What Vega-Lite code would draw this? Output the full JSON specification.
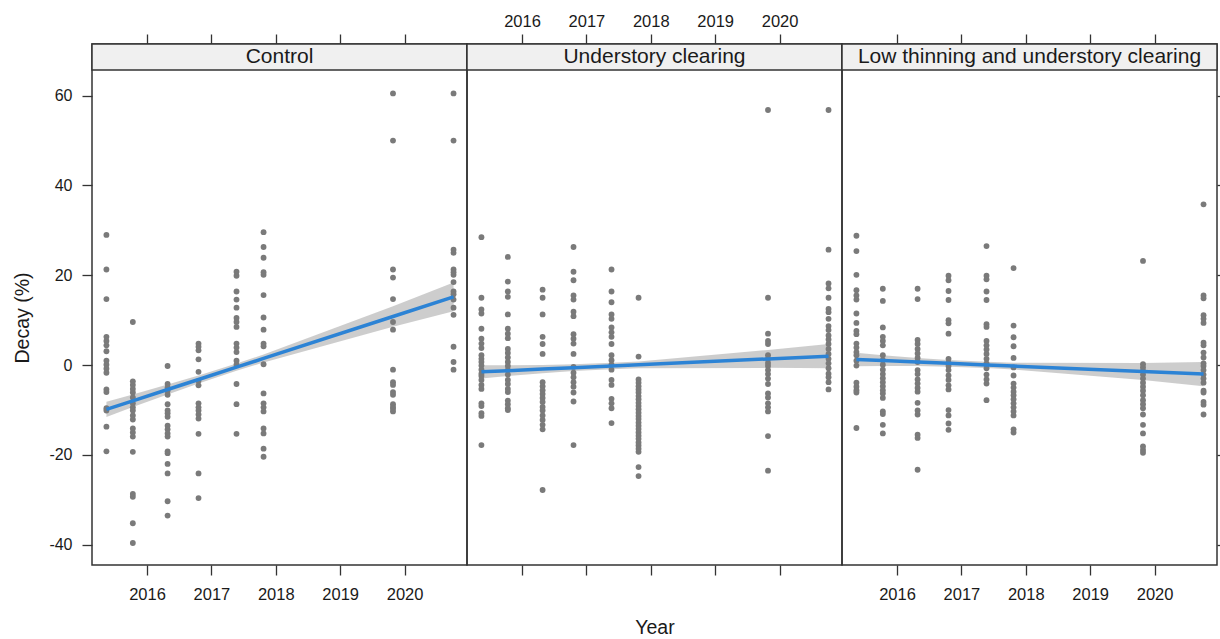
{
  "$schema": "https://vega.github.io/schema/vega-lite/v6.json",
  "padding": {"left": 11, "top": 12, "right": 0, "bottom": 0},
  "background": "white",
  "config": {
    "font": "Liberation Sans",
    "view": {"stroke": "#333333", "strokeWidth": 1.5},
    "axis": {"grid": false, "domain": false, "tickColor": "#333333", "tickWidth": 1.3, "tickSize": 10, "labelFont": "Liberation Sans", "labelFontSize": 16.5, "labelColor": "#1a1a1a", "titleFont": "Liberation Sans", "titleFontSize": 19.5, "titleFontWeight": "normal", "titleColor": "#1a1a1a"}
  },
  "datasets": {
    "control": [
      {"year":2015.37,"decay":29.0},{"year":2015.37,"decay":21.3},{"year":2015.37,"decay":14.7},{"year":2015.37,"decay":6.3},{"year":2015.37,"decay":5.4},{"year":2015.37,"decay":4.4},{"year":2015.37,"decay":3.1},{"year":2015.37,"decay":1.0},{"year":2015.37,"decay":0.1},{"year":2015.37,"decay":-0.8},{"year":2015.37,"decay":-1.7},{"year":2015.37,"decay":-5.4},{"year":2015.37,"decay":-6.0},{"year":2015.37,"decay":-9.6},{"year":2015.37,"decay":-10.1},{"year":2015.37,"decay":-13.7},{"year":2015.37,"decay":-19.2},
      {"year":2015.78,"decay":9.6},{"year":2015.78,"decay":-3.6},{"year":2015.78,"decay":-4.4},{"year":2015.78,"decay":-5.3},{"year":2015.78,"decay":-6.1},{"year":2015.78,"decay":-7.2},{"year":2015.78,"decay":-8.5},{"year":2015.78,"decay":-9.4},{"year":2015.78,"decay":-10.1},{"year":2015.78,"decay":-11.2},{"year":2015.78,"decay":-12.1},{"year":2015.78,"decay":-14.1},{"year":2015.78,"decay":-15.0},{"year":2015.78,"decay":-15.9},{"year":2015.78,"decay":-19.3},{"year":2015.78,"decay":-28.7},{"year":2015.78,"decay":-29.3},{"year":2015.78,"decay":-35.2},{"year":2015.78,"decay":-39.6},
      {"year":2016.32,"decay":-0.2},{"year":2016.32,"decay":-4.2},{"year":2016.32,"decay":-5.0},{"year":2016.32,"decay":-5.7},{"year":2016.32,"decay":-6.6},{"year":2016.32,"decay":-8.7},{"year":2016.32,"decay":-10.1},{"year":2016.32,"decay":-10.7},{"year":2016.32,"decay":-11.5},{"year":2016.32,"decay":-13.5},{"year":2016.32,"decay":-14.3},{"year":2016.32,"decay":-15.2},{"year":2016.32,"decay":-15.9},{"year":2016.32,"decay":-19.2},{"year":2016.32,"decay":-19.6},{"year":2016.32,"decay":-22.0},{"year":2016.32,"decay":-24.1},{"year":2016.32,"decay":-30.3},{"year":2016.32,"decay":-33.5},
      {"year":2016.80,"decay":4.8},{"year":2016.80,"decay":4.1},{"year":2016.80,"decay":3.3},{"year":2016.80,"decay":1.3},{"year":2016.80,"decay":-1.5},{"year":2016.80,"decay":-3.5},{"year":2016.80,"decay":-4.5},{"year":2016.80,"decay":-8.5},{"year":2016.80,"decay":-9.4},{"year":2016.80,"decay":-10.1},{"year":2016.80,"decay":-11.0},{"year":2016.80,"decay":-11.9},{"year":2016.80,"decay":-15.3},{"year":2016.80,"decay":-24.1},{"year":2016.80,"decay":-29.6},
      {"year":2017.39,"decay":20.8},{"year":2017.39,"decay":19.9},{"year":2017.39,"decay":16.4},{"year":2017.39,"decay":14.6},{"year":2017.39,"decay":12.8},{"year":2017.39,"decay":10.5},{"year":2017.39,"decay":9.6},{"year":2017.39,"decay":8.5},{"year":2017.39,"decay":4.8},{"year":2017.39,"decay":3.9},{"year":2017.39,"decay":2.9},{"year":2017.39,"decay":1.0},{"year":2017.39,"decay":0.1},{"year":2017.39,"decay":-4.2},{"year":2017.39,"decay":-8.7},{"year":2017.39,"decay":-15.3},
      {"year":2017.81,"decay":29.6},{"year":2017.81,"decay":26.3},{"year":2017.81,"decay":23.9},{"year":2017.81,"decay":20.7},{"year":2017.81,"decay":20.1},{"year":2017.81,"decay":15.6},{"year":2017.81,"decay":10.6},{"year":2017.81,"decay":7.9},{"year":2017.81,"decay":4.8},{"year":2017.81,"decay":4.2},{"year":2017.81,"decay":0.2},{"year":2017.81,"decay":-6.3},{"year":2017.81,"decay":-8.5},{"year":2017.81,"decay":-9.4},{"year":2017.81,"decay":-10.3},{"year":2017.81,"decay":-14.1},{"year":2017.81,"decay":-15.2},{"year":2017.81,"decay":-18.6},{"year":2017.81,"decay":-20.4},
      {"year":2019.82,"decay":60.5},{"year":2019.82,"decay":50.0},{"year":2019.82,"decay":21.3},{"year":2019.82,"decay":19.5},{"year":2019.82,"decay":14.7},{"year":2019.82,"decay":9.6},{"year":2019.82,"decay":7.9},{"year":2019.82,"decay":-1.0},{"year":2019.82,"decay":-3.8},{"year":2019.82,"decay":-4.4},{"year":2019.82,"decay":-6.0},{"year":2019.82,"decay":-6.6},{"year":2019.82,"decay":-8.7},{"year":2019.82,"decay":-9.3},{"year":2019.82,"decay":-9.7},{"year":2019.82,"decay":-10.3},
      {"year":2020.76,"decay":60.5},{"year":2020.76,"decay":50.0},{"year":2020.76,"decay":25.7},{"year":2020.76,"decay":25.0},{"year":2020.76,"decay":21.3},{"year":2020.76,"decay":20.7},{"year":2020.76,"decay":20.1},{"year":2020.76,"decay":18.5},{"year":2020.76,"decay":16.4},{"year":2020.76,"decay":15.8},{"year":2020.76,"decay":14.6},{"year":2020.76,"decay":12.8},{"year":2020.76,"decay":11.2},{"year":2020.76,"decay":4.1},{"year":2020.76,"decay":0.7},{"year":2020.76,"decay":-1.0}
    ],
    "understory": [
      {"year":2015.37,"decay":28.5},{"year":2015.37,"decay":15.0},{"year":2015.37,"decay":12.4},{"year":2015.37,"decay":11.5},{"year":2015.37,"decay":8.1},{"year":2015.37,"decay":5.9},{"year":2015.37,"decay":4.8},{"year":2015.37,"decay":3.8},{"year":2015.37,"decay":2.2},{"year":2015.37,"decay":1.4},{"year":2015.37,"decay":0.7},{"year":2015.37,"decay":-0.1},{"year":2015.37,"decay":-1.0},{"year":2015.37,"decay":-1.9},{"year":2015.37,"decay":-2.4},{"year":2015.37,"decay":-3.3},{"year":2015.37,"decay":-4.4},{"year":2015.37,"decay":-5.3},{"year":2015.37,"decay":-8.5},{"year":2015.37,"decay":-9.1},{"year":2015.37,"decay":-10.7},{"year":2015.37,"decay":-11.3},{"year":2015.37,"decay":-17.8},
      {"year":2015.78,"decay":24.1},{"year":2015.78,"decay":18.6},{"year":2015.78,"decay":16.4},{"year":2015.78,"decay":15.2},{"year":2015.78,"decay":11.3},{"year":2015.78,"decay":8.1},{"year":2015.78,"decay":7.0},{"year":2015.78,"decay":6.0},{"year":2015.78,"decay":3.6},{"year":2015.78,"decay":2.7},{"year":2015.78,"decay":1.7},{"year":2015.78,"decay":0.7},{"year":2015.78,"decay":-0.2},{"year":2015.78,"decay":-1.1},{"year":2015.78,"decay":-2.1},{"year":2015.78,"decay":-3.3},{"year":2015.78,"decay":-4.2},{"year":2015.78,"decay":-5.3},{"year":2015.78,"decay":-6.0},{"year":2015.78,"decay":-7.9},{"year":2015.78,"decay":-8.7},{"year":2015.78,"decay":-9.6},{"year":2015.78,"decay":-10.0},
      {"year":2016.32,"decay":16.8},{"year":2016.32,"decay":15.0},{"year":2016.32,"decay":11.3},{"year":2016.32,"decay":6.3},{"year":2016.32,"decay":4.7},{"year":2016.32,"decay":2.5},{"year":2016.32,"decay":-3.8},{"year":2016.32,"decay":-4.7},{"year":2016.32,"decay":-5.6},{"year":2016.32,"decay":-6.4},{"year":2016.32,"decay":-7.3},{"year":2016.32,"decay":-8.2},{"year":2016.32,"decay":-9.3},{"year":2016.32,"decay":-10.1},{"year":2016.32,"decay":-11.2},{"year":2016.32,"decay":-12.2},{"year":2016.32,"decay":-13.3},{"year":2016.32,"decay":-14.3},{"year":2016.32,"decay":-27.8},
      {"year":2016.80,"decay":26.3},{"year":2016.80,"decay":20.8},{"year":2016.80,"decay":18.9},{"year":2016.80,"decay":15.5},{"year":2016.80,"decay":14.6},{"year":2016.80,"decay":11.9},{"year":2016.80,"decay":10.9},{"year":2016.80,"decay":6.9},{"year":2016.80,"decay":5.9},{"year":2016.80,"decay":4.8},{"year":2016.80,"decay":2.5},{"year":2016.80,"decay":-0.4},{"year":2016.80,"decay":-1.7},{"year":2016.80,"decay":-2.7},{"year":2016.80,"decay":-3.8},{"year":2016.80,"decay":-4.8},{"year":2016.80,"decay":-6.1},{"year":2016.80,"decay":-8.1},{"year":2016.80,"decay":-17.8},
      {"year":2017.39,"decay":21.3},{"year":2017.39,"decay":16.4},{"year":2017.39,"decay":14.0},{"year":2017.39,"decay":11.3},{"year":2017.39,"decay":10.3},{"year":2017.39,"decay":8.4},{"year":2017.39,"decay":7.3},{"year":2017.39,"decay":6.3},{"year":2017.39,"decay":4.7},{"year":2017.39,"decay":2.2},{"year":2017.39,"decay":1.1},{"year":2017.39,"decay":0.1},{"year":2017.39,"decay":-1.0},{"year":2017.39,"decay":-3.3},{"year":2017.39,"decay":-4.4},{"year":2017.39,"decay":-7.5},{"year":2017.39,"decay":-8.5},{"year":2017.39,"decay":-9.6},{"year":2017.39,"decay":-12.9},
      {"year":2017.81,"decay":15.0},{"year":2017.81,"decay":1.9},{"year":2017.81,"decay":-3.2},{"year":2017.81,"decay":-3.9},{"year":2017.81,"decay":-4.7},{"year":2017.81,"decay":-5.4},{"year":2017.81,"decay":-6.1},{"year":2017.81,"decay":-6.9},{"year":2017.81,"decay":-7.6},{"year":2017.81,"decay":-8.4},{"year":2017.81,"decay":-9.1},{"year":2017.81,"decay":-9.8},{"year":2017.81,"decay":-10.6},{"year":2017.81,"decay":-11.3},{"year":2017.81,"decay":-12.0},{"year":2017.81,"decay":-12.8},{"year":2017.81,"decay":-13.5},{"year":2017.81,"decay":-14.2},{"year":2017.81,"decay":-15.0},{"year":2017.81,"decay":-15.7},{"year":2017.81,"decay":-16.4},{"year":2017.81,"decay":-17.2},{"year":2017.81,"decay":-17.9},{"year":2017.81,"decay":-18.6},{"year":2017.81,"decay":-19.3},{"year":2017.81,"decay":-22.7},{"year":2017.81,"decay":-24.7},
      {"year":2019.82,"decay":56.8},{"year":2019.82,"decay":15.0},{"year":2019.82,"decay":7.0},{"year":2019.82,"decay":5.4},{"year":2019.82,"decay":4.7},{"year":2019.82,"decay":2.2},{"year":2019.82,"decay":1.4},{"year":2019.82,"decay":0.5},{"year":2019.82,"decay":-0.2},{"year":2019.82,"decay":-1.1},{"year":2019.82,"decay":-2.0},{"year":2019.82,"decay":-3.0},{"year":2019.82,"decay":-4.2},{"year":2019.82,"decay":-6.3},{"year":2019.82,"decay":-7.2},{"year":2019.82,"decay":-8.5},{"year":2019.82,"decay":-9.4},{"year":2019.82,"decay":-10.3},{"year":2019.82,"decay":-15.8},{"year":2019.82,"decay":-23.5},
      {"year":2020.76,"decay":56.8},{"year":2020.76,"decay":25.7},{"year":2020.76,"decay":18.2},{"year":2020.76,"decay":17.1},{"year":2020.76,"decay":15.0},{"year":2020.76,"decay":12.5},{"year":2020.76,"decay":11.8},{"year":2020.76,"decay":10.3},{"year":2020.76,"decay":8.7},{"year":2020.76,"decay":7.8},{"year":2020.76,"decay":6.6},{"year":2020.76,"decay":5.7},{"year":2020.76,"decay":4.7},{"year":2020.76,"decay":3.6},{"year":2020.76,"decay":2.5},{"year":2020.76,"decay":1.4},{"year":2020.76,"decay":0.4},{"year":2020.76,"decay":-0.7},{"year":2020.76,"decay":-1.9},{"year":2020.76,"decay":-2.7},{"year":2020.76,"decay":-3.8},{"year":2020.76,"decay":-5.4}
    ],
    "low": [
      {"year":2015.37,"decay":28.8},{"year":2015.37,"decay":25.4},{"year":2015.37,"decay":20.1},{"year":2015.37,"decay":16.7},{"year":2015.37,"decay":15.5},{"year":2015.37,"decay":14.6},{"year":2015.37,"decay":11.5},{"year":2015.37,"decay":9.4},{"year":2015.37,"decay":7.6},{"year":2015.37,"decay":6.9},{"year":2015.37,"decay":4.8},{"year":2015.37,"decay":3.9},{"year":2015.37,"decay":2.9},{"year":2015.37,"decay":2.2},{"year":2015.37,"decay":1.0},{"year":2015.37,"decay":-0.1},{"year":2015.37,"decay":-3.9},{"year":2015.37,"decay":-4.8},{"year":2015.37,"decay":-5.6},{"year":2015.37,"decay":-6.1},{"year":2015.37,"decay":-14.0},
      {"year":2015.78,"decay":17.0},{"year":2015.78,"decay":14.3},{"year":2015.78,"decay":8.4},{"year":2015.78,"decay":6.3},{"year":2015.78,"decay":5.4},{"year":2015.78,"decay":4.4},{"year":2015.78,"decay":2.2},{"year":2015.78,"decay":1.1},{"year":2015.78,"decay":0.1},{"year":2015.78,"decay":-1.0},{"year":2015.78,"decay":-2.0},{"year":2015.78,"decay":-2.9},{"year":2015.78,"decay":-3.8},{"year":2015.78,"decay":-4.7},{"year":2015.78,"decay":-5.6},{"year":2015.78,"decay":-6.3},{"year":2015.78,"decay":-7.3},{"year":2015.78,"decay":-10.3},{"year":2015.78,"decay":-10.9},{"year":2015.78,"decay":-13.3},{"year":2015.78,"decay":-15.2},
      {"year":2016.32,"decay":17.0},{"year":2016.32,"decay":14.7},{"year":2016.32,"decay":5.6},{"year":2016.32,"decay":4.7},{"year":2016.32,"decay":3.6},{"year":2016.32,"decay":2.6},{"year":2016.32,"decay":1.6},{"year":2016.32,"decay":0.7},{"year":2016.32,"decay":-1.1},{"year":2016.32,"decay":-2.0},{"year":2016.32,"decay":-3.2},{"year":2016.32,"decay":-4.1},{"year":2016.32,"decay":-5.1},{"year":2016.32,"decay":-5.9},{"year":2016.32,"decay":-8.4},{"year":2016.32,"decay":-10.1},{"year":2016.32,"decay":-11.0},{"year":2016.32,"decay":-15.5},{"year":2016.32,"decay":-16.2},{"year":2016.32,"decay":-23.3},
      {"year":2016.80,"decay":19.9},{"year":2016.80,"decay":18.9},{"year":2016.80,"decay":16.5},{"year":2016.80,"decay":14.5},{"year":2016.80,"decay":10.0},{"year":2016.80,"decay":9.3},{"year":2016.80,"decay":7.0},{"year":2016.80,"decay":1.4},{"year":2016.80,"decay":0.5},{"year":2016.80,"decay":-0.2},{"year":2016.80,"decay":-1.1},{"year":2016.80,"decay":-2.3},{"year":2016.80,"decay":-3.3},{"year":2016.80,"decay":-4.5},{"year":2016.80,"decay":-5.4},{"year":2016.80,"decay":-10.0},{"year":2016.80,"decay":-11.2},{"year":2016.80,"decay":-13.0},{"year":2016.80,"decay":-14.4},
      {"year":2017.39,"decay":26.5},{"year":2017.39,"decay":19.9},{"year":2017.39,"decay":19.1},{"year":2017.39,"decay":16.4},{"year":2017.39,"decay":14.5},{"year":2017.39,"decay":9.1},{"year":2017.39,"decay":8.5},{"year":2017.39,"decay":5.4},{"year":2017.39,"decay":4.4},{"year":2017.39,"decay":3.5},{"year":2017.39,"decay":2.5},{"year":2017.39,"decay":1.4},{"year":2017.39,"decay":0.4},{"year":2017.39,"decay":-0.7},{"year":2017.39,"decay":-2.1},{"year":2017.39,"decay":-3.2},{"year":2017.39,"decay":-4.1},{"year":2017.39,"decay":-7.8},
      {"year":2017.81,"decay":21.6},{"year":2017.81,"decay":8.8},{"year":2017.81,"decay":6.2},{"year":2017.81,"decay":4.2},{"year":2017.81,"decay":1.6},{"year":2017.81,"decay":-0.5},{"year":2017.81,"decay":-2.3},{"year":2017.81,"decay":-4.1},{"year":2017.81,"decay":-5.0},{"year":2017.81,"decay":-5.9},{"year":2017.81,"decay":-6.7},{"year":2017.81,"decay":-7.6},{"year":2017.81,"decay":-8.5},{"year":2017.81,"decay":-9.4},{"year":2017.81,"decay":-10.3},{"year":2017.81,"decay":-11.2},{"year":2017.81,"decay":-14.3},{"year":2017.81,"decay":-15.0},
      {"year":2019.82,"decay":23.2},{"year":2019.82,"decay":0.2},{"year":2019.82,"decay":-0.5},{"year":2019.82,"decay":-1.3},{"year":2019.82,"decay":-2.1},{"year":2019.82,"decay":-3.0},{"year":2019.82,"decay":-3.9},{"year":2019.82,"decay":-4.8},{"year":2019.82,"decay":-5.7},{"year":2019.82,"decay":-6.7},{"year":2019.82,"decay":-7.8},{"year":2019.82,"decay":-8.7},{"year":2019.82,"decay":-9.6},{"year":2019.82,"decay":-11.0},{"year":2019.82,"decay":-13.3},{"year":2019.82,"decay":-15.2},{"year":2019.82,"decay":-18.1},{"year":2019.82,"decay":-18.9},{"year":2019.82,"decay":-19.5},
      {"year":2020.76,"decay":35.8},{"year":2020.76,"decay":15.5},{"year":2020.76,"decay":14.9},{"year":2020.76,"decay":11.1},{"year":2020.76,"decay":10.3},{"year":2020.76,"decay":9.4},{"year":2020.76,"decay":5.0},{"year":2020.76,"decay":4.4},{"year":2020.76,"decay":2.8},{"year":2020.76,"decay":1.7},{"year":2020.76,"decay":0.4},{"year":2020.76,"decay":-0.2},{"year":2020.76,"decay":-1.1},{"year":2020.76,"decay":-2.1},{"year":2020.76,"decay":-3.0},{"year":2020.76,"decay":-3.9},{"year":2020.76,"decay":-5.7},{"year":2020.76,"decay":-6.1},{"year":2020.76,"decay":-8.2},{"year":2020.76,"decay":-8.8},{"year":2020.76,"decay":-11.0}
    ],
    "fits": [
      {"treatment":"Control","year":2015.37,"fit":-9.85,"lo":-11.55,"hi":-8.15},
      {"treatment":"Control","year":2015.78,"fit":-7.94,"lo":-9.34,"hi":-6.54},
      {"treatment":"Control","year":2016.32,"fit":-5.43,"lo":-6.53,"hi":-4.33},
      {"treatment":"Control","year":2016.80,"fit":-3.20,"lo":-4.10,"hi":-2.30},
      {"treatment":"Control","year":2017.39,"fit":-0.46,"lo":-1.26,"hi":0.34},
      {"treatment":"Control","year":2017.81,"fit":1.49,"lo":0.59,"hi":2.39},
      {"treatment":"Control","year":2019.82,"fit":10.83,"lo":8.53,"hi":13.13},
      {"treatment":"Control","year":2020.76,"fit":15.2,"lo":12.0,"hi":18.4},
      {"treatment":"Understory","year":2015.37,"fit":-1.5,"lo":-3.0,"hi":0.0},
      {"treatment":"Understory","year":2015.78,"fit":-1.23,"lo":-2.43,"hi":-0.03},
      {"treatment":"Understory","year":2016.32,"fit":-0.88,"lo":-1.78,"hi":0.02},
      {"treatment":"Understory","year":2016.80,"fit":-0.57,"lo":-1.32,"hi":0.18},
      {"treatment":"Understory","year":2017.39,"fit":-0.19,"lo":-0.89,"hi":0.51},
      {"treatment":"Understory","year":2017.81,"fit":0.08,"lo":-0.67,"hi":0.83},
      {"treatment":"Understory","year":2019.82,"fit":1.39,"lo":-0.61,"hi":3.39},
      {"treatment":"Understory","year":2020.76,"fit":2.0,"lo":-0.7,"hi":4.7},
      {"treatment":"Low","year":2015.37,"fit":1.27,"lo":-0.23,"hi":2.77},
      {"treatment":"Low","year":2015.78,"fit":1.02,"lo":-0.18,"hi":2.22},
      {"treatment":"Low","year":2016.32,"fit":0.69,"lo":-0.21,"hi":1.59},
      {"treatment":"Low","year":2016.80,"fit":0.40,"lo":-0.35,"hi":1.15},
      {"treatment":"Low","year":2017.39,"fit":0.04,"lo":-0.66,"hi":0.74},
      {"treatment":"Low","year":2017.81,"fit":-0.21,"lo":-0.96,"hi":0.54},
      {"treatment":"Low","year":2019.82,"fit":-1.43,"lo":-3.33,"hi":0.47},
      {"treatment":"Low","year":2020.76,"fit":-2.0,"lo":-4.7,"hi":0.7}
    ]
  },
  "columns": 3,
  "spacing": 0,
  "bounds": "flush",
  "concat": [
    {
      "width": 375, "height": 521,
      "layer": [
        {"data": {"name": "fits"}, "transform": [{"filter": "datum.treatment == 'Control'"}],
         "mark": {"type": "area", "color": "#c4c4c4", "opacity": 0.85},
         "encoding": {"x": {"field": "year", "type": "quantitative", "scale": {"domain": [2015.146, 2020.969], "nice": false, "zero": false},
                            "axis": {"orient": "bottom", "values": [2016, 2017, 2018, 2019, 2020], "labelExpr": "datum.value", "labelPadding": 11, "title": null}},
                      "y": {"field": "lo", "type": "quantitative", "scale": {"domain": [-44.5, 71.5], "nice": false, "zero": false},
                            "axis": {"orient": "left", "values": [-40, -20, 0, 20, 40, 60], "labelExpr": "datum.value", "labelFontSize": 16, "labelPadding": 10, "title": "Decay (%)", "titleX": -70, "titleY": 273.5, "titleBaseline": "middle"}},
                      "y2": {"field": "hi"}}},
        {"data": {"name": "control"},
         "mark": {"type": "circle", "size": 34, "color": "#7a7a7a", "opacity": 1},
         "encoding": {"x": {"field": "year", "type": "quantitative", "scale": {"domain": [2015.146, 2020.969], "nice": false, "zero": false}, "axis": null},
                      "y": {"field": "decay", "type": "quantitative", "scale": {"domain": [-44.5, 71.5], "nice": false, "zero": false},
                            "axis": {"orient": "left", "values": [-40, -20, 0, 20, 40, 60], "labelExpr": "datum.value", "labelFontSize": 16, "labelPadding": 10, "title": "Decay (%)", "titleX": -70, "titleY": 273.5, "titleBaseline": "middle"}}}},
        {"data": {"name": "fits"}, "transform": [{"filter": "datum.treatment == 'Control'"}],
         "mark": {"type": "line", "color": "#2c83d5", "strokeWidth": 3.5},
         "encoding": {"x": {"field": "year", "type": "quantitative", "scale": {"domain": [2015.146, 2020.969], "nice": false, "zero": false}, "axis": null},
                      "y": {"field": "fit", "type": "quantitative", "scale": {"domain": [-44.5, 71.5], "nice": false, "zero": false},
                            "axis": {"orient": "left", "values": [-40, -20, 0, 20, 40, 60], "labelExpr": "datum.value", "labelFontSize": 16, "labelPadding": 10, "title": "Decay (%)", "titleX": -70, "titleY": 273.5, "titleBaseline": "middle"}}}},
        {"data": {"values": [{"panel": "Control"}]},
         "mark": {"type": "rect", "fill": "#f0f0f0", "stroke": "#333333", "strokeWidth": 1.5},
         "encoding": {"x": {"datum": 2015.146, "type": "quantitative", "scale": {"domain": [2015.146, 2020.969], "nice": false, "zero": false},
                            "axis": {"orient": "top", "values": [2016, 2017, 2018, 2019, 2020], "labels": false, "title": null}},
                      "x2": {"datum": 2020.969},
                      "y": {"datum": 65.7, "type": "quantitative", "scale": {"domain": [-44.5, 71.5], "nice": false, "zero": false},
                            "axis": {"orient": "left", "values": [-40, -20, 0, 20, 40, 60], "labelExpr": "datum.value", "labelFontSize": 16, "labelPadding": 10, "title": "Decay (%)", "titleX": -70, "titleY": 273.5, "titleBaseline": "middle"}},
                      "y2": {"datum": 71.5}}},
        {"data": {"values": [{"panel": "Control"}]},
         "mark": {"type": "text", "fontSize": 21, "color": "#1a1a1a", "baseline": "middle", "align": "center"},
         "encoding": {"x": {"datum": 2018.0575, "type": "quantitative", "scale": {"domain": [2015.146, 2020.969], "nice": false, "zero": false}, "axis": null},
                      "y": {"datum": 68.6, "type": "quantitative", "scale": {"domain": [-44.5, 71.5], "nice": false, "zero": false},
                            "axis": {"orient": "left", "values": [-40, -20, 0, 20, 40, 60], "labelExpr": "datum.value", "labelFontSize": 16, "labelPadding": 10, "title": "Decay (%)", "titleX": -70, "titleY": 273.5, "titleBaseline": "middle"}},
                      "text": {"field": "panel"}}}
      ]
    },
    {
      "width": 375, "height": 521,
      "layer": [
        {"data": {"name": "fits"}, "transform": [{"filter": "datum.treatment == 'Understory'"}],
         "mark": {"type": "area", "color": "#c4c4c4", "opacity": 0.85},
         "encoding": {"x": {"field": "year", "type": "quantitative", "scale": {"domain": [2015.146, 2020.969], "nice": false, "zero": false},
                            "axis": {"orient": "bottom", "values": [2016, 2017, 2018, 2019, 2020], "labels": false, "title": "Year", "titleY": 68, "titleBaseline": "alphabetic"}},
                      "y": {"field": "lo", "type": "quantitative", "scale": {"domain": [-44.5, 71.5], "nice": false, "zero": false}, "axis": null}, "y2": {"field": "hi"}}},
        {"data": {"name": "understory"},
         "mark": {"type": "circle", "size": 34, "color": "#7a7a7a", "opacity": 1},
         "encoding": {"x": {"field": "year", "type": "quantitative", "scale": {"domain": [2015.146, 2020.969], "nice": false, "zero": false}, "axis": null},
                      "y": {"field": "decay", "type": "quantitative", "scale": {"domain": [-44.5, 71.5], "nice": false, "zero": false}, "axis": null}}},
        {"data": {"name": "fits"}, "transform": [{"filter": "datum.treatment == 'Understory'"}],
         "mark": {"type": "line", "color": "#2c83d5", "strokeWidth": 3.5},
         "encoding": {"x": {"field": "year", "type": "quantitative", "scale": {"domain": [2015.146, 2020.969], "nice": false, "zero": false}, "axis": null},
                      "y": {"field": "fit", "type": "quantitative", "scale": {"domain": [-44.5, 71.5], "nice": false, "zero": false}, "axis": null}}},
        {"data": {"values": [{"panel": "Understory clearing"}]},
         "mark": {"type": "rect", "fill": "#f0f0f0", "stroke": "#333333", "strokeWidth": 1.5},
         "encoding": {"x": {"datum": 2015.146, "type": "quantitative", "scale": {"domain": [2015.146, 2020.969], "nice": false, "zero": false},
                            "axis": {"orient": "top", "values": [2016, 2017, 2018, 2019, 2020], "labelExpr": "datum.value", "labelPadding": 5, "title": null}},
                      "x2": {"datum": 2020.969},
                      "y": {"datum": 65.7, "type": "quantitative", "scale": {"domain": [-44.5, 71.5], "nice": false, "zero": false}, "axis": null},
                      "y2": {"datum": 71.5}}},
        {"data": {"values": [{"panel": "Understory clearing"}]},
         "mark": {"type": "text", "fontSize": 21, "color": "#1a1a1a", "baseline": "middle", "align": "center"},
         "encoding": {"x": {"datum": 2018.0575, "type": "quantitative", "scale": {"domain": [2015.146, 2020.969], "nice": false, "zero": false}, "axis": null},
                      "y": {"datum": 68.6, "type": "quantitative", "scale": {"domain": [-44.5, 71.5], "nice": false, "zero": false}, "axis": null},
                      "text": {"field": "panel"}}}
      ]
    },
    {
      "width": 375, "height": 521,
      "layer": [
        {"data": {"name": "fits"}, "transform": [{"filter": "datum.treatment == 'Low'"}],
         "mark": {"type": "area", "color": "#c4c4c4", "opacity": 0.85},
         "encoding": {"x": {"field": "year", "type": "quantitative", "scale": {"domain": [2015.146, 2020.969], "nice": false, "zero": false},
                            "axis": {"orient": "bottom", "values": [2016, 2017, 2018, 2019, 2020], "labelExpr": "datum.value", "labelPadding": 11, "title": null}},
                      "y": {"field": "lo", "type": "quantitative", "scale": {"domain": [-44.5, 71.5], "nice": false, "zero": false},
                            "axis": {"orient": "right", "values": [-40, -20, 0, 20, 40, 60], "labels": false, "tickSize": 3, "title": null}},
                      "y2": {"field": "hi"}}},
        {"data": {"name": "low"},
         "mark": {"type": "circle", "size": 34, "color": "#7a7a7a", "opacity": 1},
         "encoding": {"x": {"field": "year", "type": "quantitative", "scale": {"domain": [2015.146, 2020.969], "nice": false, "zero": false}, "axis": null},
                      "y": {"field": "decay", "type": "quantitative", "scale": {"domain": [-44.5, 71.5], "nice": false, "zero": false},
                            "axis": {"orient": "right", "values": [-40, -20, 0, 20, 40, 60], "labels": false, "tickSize": 3, "title": null}}}},
        {"data": {"name": "fits"}, "transform": [{"filter": "datum.treatment == 'Low'"}],
         "mark": {"type": "line", "color": "#2c83d5", "strokeWidth": 3.5},
         "encoding": {"x": {"field": "year", "type": "quantitative", "scale": {"domain": [2015.146, 2020.969], "nice": false, "zero": false}, "axis": null},
                      "y": {"field": "fit", "type": "quantitative", "scale": {"domain": [-44.5, 71.5], "nice": false, "zero": false},
                            "axis": {"orient": "right", "values": [-40, -20, 0, 20, 40, 60], "labels": false, "tickSize": 3, "title": null}}}},
        {"data": {"values": [{"panel": "Low thinning and understory clearing"}]},
         "mark": {"type": "rect", "fill": "#f0f0f0", "stroke": "#333333", "strokeWidth": 1.5},
         "encoding": {"x": {"datum": 2015.146, "type": "quantitative", "scale": {"domain": [2015.146, 2020.969], "nice": false, "zero": false},
                            "axis": {"orient": "top", "values": [2016, 2017, 2018, 2019, 2020], "labels": false, "title": null}},
                      "x2": {"datum": 2020.969},
                      "y": {"datum": 65.7, "type": "quantitative", "scale": {"domain": [-44.5, 71.5], "nice": false, "zero": false},
                            "axis": {"orient": "right", "values": [-40, -20, 0, 20, 40, 60], "labels": false, "tickSize": 3, "title": null}},
                      "y2": {"datum": 71.5}}},
        {"data": {"values": [{"panel": "Low thinning and understory clearing"}]},
         "mark": {"type": "text", "fontSize": 21, "color": "#1a1a1a", "baseline": "middle", "align": "center"},
         "encoding": {"x": {"datum": 2018.0575, "type": "quantitative", "scale": {"domain": [2015.146, 2020.969], "nice": false, "zero": false}, "axis": null},
                      "y": {"datum": 68.6, "type": "quantitative", "scale": {"domain": [-44.5, 71.5], "nice": false, "zero": false},
                            "axis": {"orient": "right", "values": [-40, -20, 0, 20, 40, 60], "labels": false, "tickSize": 3, "title": null}},
                      "text": {"field": "panel"}}}
      ]
    }
  ]
}
